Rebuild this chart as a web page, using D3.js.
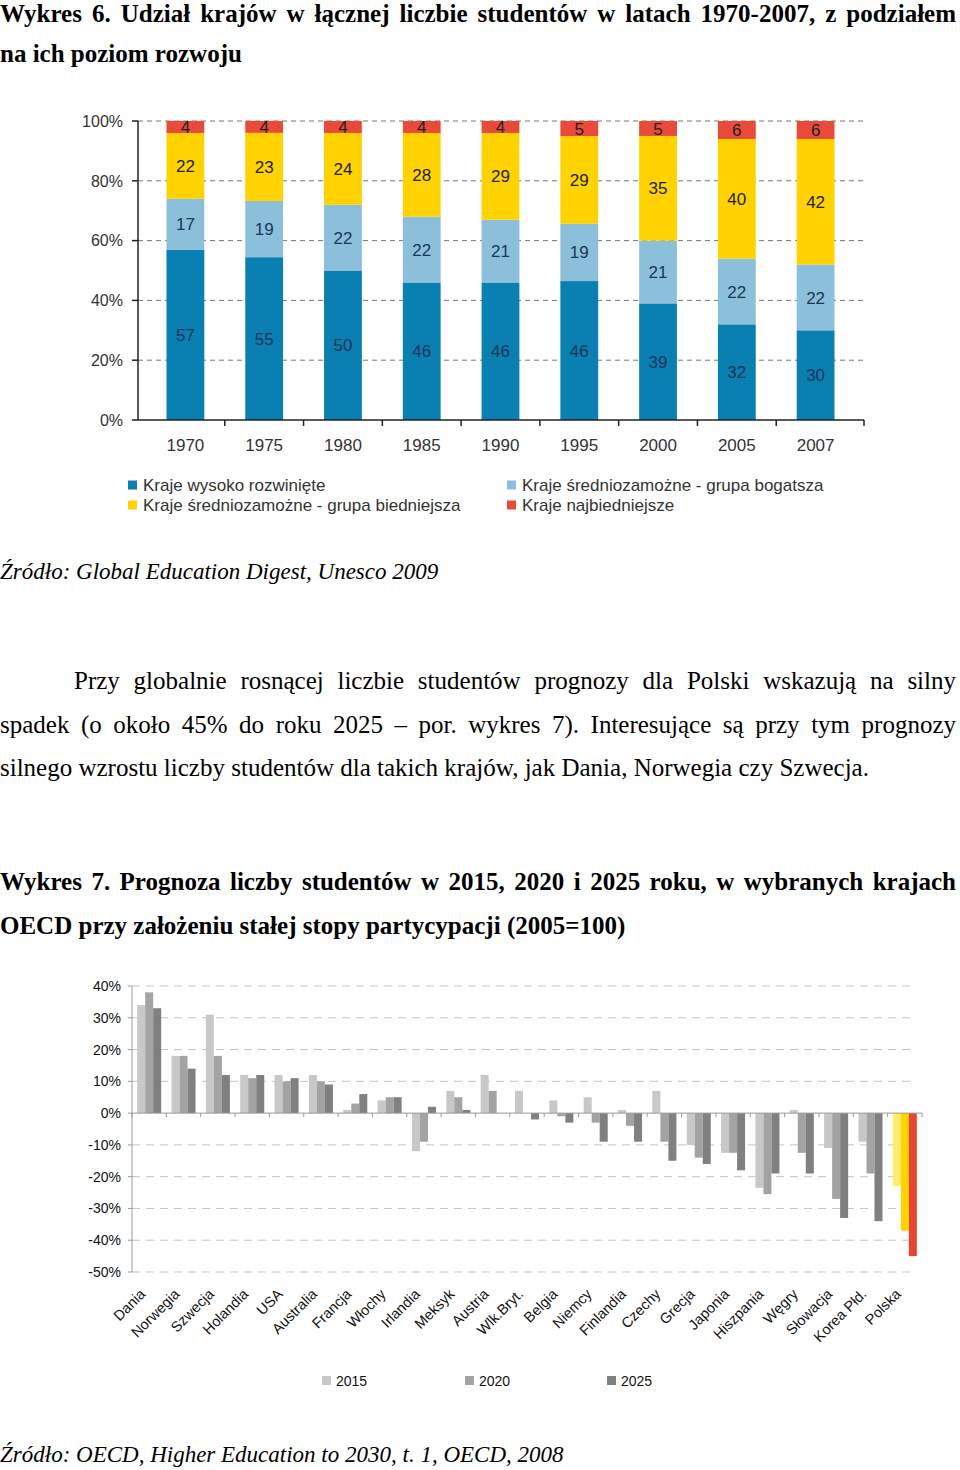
<!DOCTYPE html>
<html>
<head>
<meta charset="utf-8">
<script src="https://cdn.jsdelivr.net/npm/d3@7/dist/d3.min.js"></script>
<style>
  html, body { margin: 0; padding: 0; background: #fff; }
  svg { display: block; }
  .tb { font-family: "Liberation Serif", "Times New Roman", serif; font-weight: bold; font-size: 25px; fill: #000; }
  .tr { font-family: "Liberation Serif", "Times New Roman", serif; font-size: 25px; fill: #000; }
  .ti { font-family: "Liberation Serif", "Times New Roman", serif; font-style: italic; font-size: 23px; fill: #000; }
  .c1 { font-family: "Liberation Sans", Arial, sans-serif; font-size: 16px; fill: #333; }
  .c1b { font-family: "Liberation Sans", Arial, sans-serif; font-size: 17px; fill: #333; }
  .c2 { font-family: "Liberation Sans", Arial, sans-serif; font-size: 14px; fill: #111; }
  .c2x { font-family: "Liberation Sans", Arial, sans-serif; font-size: 14.5px; fill: #111; }
</style>
</head>
<body>
<script>
// ---------- DATA: chart 6 ----------
const years = ["1970", "1975", "1980", "1985", "1990", "1995", "2000", "2005", "2007"];
const highlyDeveloped = [57, 55, 50, 46, 46, 46, 39, 32, 30];
const middleRicher    = [17, 19, 22, 22, 21, 19, 21, 22, 22];
const middlePoorer    = [22, 23, 24, 28, 29, 29, 35, 40, 42];
const poorest         = [4, 4, 4, 4, 4, 5, 5, 6, 6];
const seriesNames6 = ["Kraje wysoko rozwinięte", "Kraje średniozamożne - grupa bogatsza",
                      "Kraje średniozamożne - grupa biedniejsza", "Kraje najbiedniejsze"];
const yTicks6 = [0, 20, 40, 60, 80, 100];

// ---------- DATA: chart 7 ----------
const countries = ["Dania", "Norwegia", "Szwecja", "Holandia", "USA", "Australia", "Francja", "Włochy",
  "Irlandia", "Meksyk", "Austria", "Wlk.Bryt.", "Belgia", "Niemcy", "Finlandia", "Czechy", "Grecja",
  "Japonia", "Hiszpania", "Węgry", "Słowacja", "Korea Płd.", "Polska"];
const v2015 = [34, 18, 31, 12, 12, 12, 1, 4, -12, 7, 12, 7, 4, 5, 1, 7, -10, -12.5, -23.5, 1, -11, -9, -23];
const v2020 = [38, 18, 18, 11, 10, 10, 3, 5, -9, 5, 7, 0, -1, -3, -4, -9, -14, -12.5, -25.5, -12.5, -27, -19, -37];
const v2025 = [33, 14, 12, 12, 11, 9, 6, 5, 2, 1, 0, -2, -3, -9, -9, -15, -16, -18, -19, -19, -33, -34, -45];
const seriesNames7 = ["2015", "2020", "2025"];
const yTicks7 = [40, 30, 20, 10, 0, -10, -20, -30, -40, -50];

// ---------- TEXT ----------
const title6 = ["Wykres 6. Udział krajów w łącznej liczbie studentów w latach 1970-2007, z podziałem",
                "na ich poziom rozwoju"];
const source6 = "Źródło: Global Education Digest, Unesco 2009";
const paragraph = ["Przy globalnie rosnącej liczbie studentów prognozy dla Polski wskazują na silny",
  "spadek (o około 45% do roku 2025 – por. wykres 7). Interesujące są przy tym prognozy",
  "silnego wzrostu liczby studentów dla takich krajów, jak Dania, Norwegia czy Szwecja."];
const title7 = ["Wykres 7. Prognoza liczby studentów w 2015, 2020 i 2025 roku, w wybranych krajach",
                "OECD przy założeniu stałej stopy partycypacji (2005=100)"];
const source7 = "Źródło: OECD, Higher Education to 2030, t. 1, OECD, 2008";

const W = 960, H = 1470;
const svg = d3.select("body").append("svg").attr("width", W).attr("height", H);

function textLine(txt, x0, x1, y, cls, justify) {
  const g = svg.append("g");
  if (!justify) {
    g.append("text").attr("class", cls).attr("x", x0).attr("y", y).text(txt);
    return;
  }
  const words = txt.split(" ");
  const nodes = words.map(w => g.append("text").attr("class", cls).attr("y", y).text(w));
  const widths = nodes.map(n => n.node().getComputedTextLength());
  const gap = (x1 - x0 - d3.sum(widths)) / (words.length - 1);
  let x = x0;
  nodes.forEach((n, i) => { n.attr("x", x); x += widths[i] + gap; });
}

textLine(title6[0], 0, 956, 22, "tb", true);
textLine(title6[1], 0, 956, 62, "tb", false);
textLine(source6, 0, 956, 579, "ti", false);
textLine(paragraph[0], 74, 956, 689, "tr", true);
textLine(paragraph[1], 0, 956, 733, "tr", true);
textLine(paragraph[2], 0, 956, 776, "tr", false);
textLine(title7[0], 0, 956, 890, "tb", true);
textLine(title7[1], 0, 956, 934, "tb", false);
textLine(source7, 0, 956, 1462, "ti", false);

// ================= CHART 6 =================
(function () {
  const colors = ["#0a7fb2", "#8cc0da", "#ffd200", "#e94a3a"];
  const labelColors = ["#1d3557", "#1d3557", "#222", "#222"];
  const rows = years.map((y, i) => {
    const vals = [highlyDeveloped[i], middleRicher[i], middlePoorer[i], poorest[i]];
    const tot = d3.sum(vals);
    return { year: y, vals, tot };
  });
  const y = d3.scaleLinear().domain([0, 100]).range([420, 121]);
  const x = d3.scaleBand().domain(years).range([146, 855]).paddingInner(0.52).paddingOuter(0.26);
  const axX0 = 138, axX1 = 864;
  const g = svg.append("g");

  // gridlines
  g.selectAll(".grid").data(yTicks6.filter(d => d > 0)).join("line")
    .attr("x1", axX0).attr("x2", axX1).attr("y1", d => y(d)).attr("y2", d => y(d))
    .attr("stroke", "#777").attr("stroke-width", 1).attr("stroke-dasharray", "5,4");

  // stacked bars
  rows.forEach(r => {
    let acc = 0;
    r.vals.forEach((v, k) => {
      const p0 = acc / r.tot * 100, p1 = (acc + v) / r.tot * 100;
      acc += v;
      g.append("rect").attr("x", x(r.year)).attr("width", x.bandwidth())
        .attr("y", y(p1)).attr("height", y(p0) - y(p1)).attr("fill", colors[k]);
      g.append("text").attr("class", "c1b").style("fill", labelColors[k])
        .attr("x", x(r.year) + x.bandwidth() / 2).attr("y", (y(p0) + y(p1)) / 2)
        .attr("text-anchor", "middle").attr("dy", "0.36em").text(v);
    });
  });

  // y axis
  g.append("line").attr("x1", axX0).attr("x2", axX0).attr("y1", y(100)).attr("y2", y(0))
    .attr("stroke", "#222").attr("stroke-width", 1.5);
  g.selectAll(".yt").data(yTicks6).join("line")
    .attr("x1", axX0 - 6).attr("x2", axX0).attr("y1", d => y(d)).attr("y2", d => y(d))
    .attr("stroke", "#222").attr("stroke-width", 1.5);
  g.selectAll(".yl").data(yTicks6).join("text").attr("class", "c1")
    .attr("x", 123).attr("y", d => y(d)).attr("dy", "0.36em").attr("text-anchor", "end")
    .text(d => d + "%");

  // x axis
  g.append("line").attr("x1", axX0).attr("x2", axX1).attr("y1", y(0)).attr("y2", y(0))
    .attr("stroke", "#222").attr("stroke-width", 1.5);
  const tickXs = years.slice(1).map(d => x(d) - x.step() * x.paddingInner() / 2).concat([axX1]);
  g.selectAll(".xt").data(tickXs).join("line")
    .attr("x1", d => d).attr("x2", d => d).attr("y1", y(0)).attr("y2", y(0) + 6)
    .attr("stroke", "#222").attr("stroke-width", 1.5);
  g.selectAll(".xl").data(years).join("text").attr("class", "c1b")
    .attr("x", d => x(d) + x.bandwidth() / 2).attr("y", 445).attr("dy", "0.36em")
    .attr("text-anchor", "middle").text(d => d);

  // legend
  const legPos = [[128, 485], [507, 485], [128, 505], [507, 505]];
  seriesNames6.forEach((name, k) => {
    const [lx, ly] = legPos[k];
    g.append("rect").attr("x", lx).attr("y", ly - 4.5).attr("width", 9).attr("height", 9).attr("fill", colors[k]);
    g.append("text").attr("class", "c1b").attr("x", lx + 15).attr("y", ly).attr("dy", "0.36em").text(name);
  });
})();

// ================= CHART 7 =================
(function () {
  const grays = ["#c8c8c8", "#a3a3a3", "#808080"];
  const polskaColors = ["#ffee6e", "#ffd200", "#e8472f"];
  const data = countries.map((c, i) => ({ c, vals: [v2015[i], v2020[i], v2025[i]] }));
  const y = d3.scaleLinear().domain([-50, 40]).range([1272, 986]);
  const x = d3.scaleBand().domain(countries).range([132, 922]).paddingInner(0.3).paddingOuter(0.15);
  const xs = d3.scaleBand().domain(seriesNames7).range([0, x.bandwidth()]);
  const g = svg.append("g");

  g.selectAll(".grid").data(yTicks7.filter(d => d !== 0)).join("line")
    .attr("x1", 132).attr("x2", 916).attr("y1", d => y(d)).attr("y2", d => y(d))
    .attr("stroke", "#c4c4c4").attr("stroke-width", 1).attr("stroke-dasharray", "8,6");

  data.forEach(d => {
    d.vals.forEach((v, k) => {
      const col = d.c === "Polska" ? polskaColors[k] : grays[k];
      g.append("rect").attr("x", x(d.c) + xs(seriesNames7[k])).attr("width", xs.bandwidth())
        .attr("y", y(Math.max(0, v))).attr("height", Math.abs(y(v) - y(0)))
        .attr("fill", col);
    });
  });

  // axes
  g.append("line").attr("x1", 132).attr("x2", 132).attr("y1", y(40)).attr("y2", y(-50))
    .attr("stroke", "#999").attr("stroke-width", 1);
  g.selectAll(".yt").data(yTicks7).join("line")
    .attr("x1", 128).attr("x2", 132).attr("y1", d => y(d)).attr("y2", d => y(d))
    .attr("stroke", "#999").attr("stroke-width", 1);
  g.append("line").attr("x1", 132).attr("x2", 922).attr("y1", y(0)).attr("y2", y(0))
    .attr("stroke", "#999").attr("stroke-width", 1);
  const ticks = d3.range(countries.length + 1).map(i => 132 + i * x.step());
  g.selectAll(".xt").data(ticks).join("line")
    .attr("x1", d => d).attr("x2", d => d).attr("y1", y(0)).attr("y2", y(0) + 4)
    .attr("stroke", "#999").attr("stroke-width", 1);
  g.selectAll(".yl").data(yTicks7).join("text").attr("class", "c2")
    .attr("x", 121).attr("y", d => y(d)).attr("dy", "0.36em").attr("text-anchor", "end")
    .text(d => d + "%");

  g.selectAll(".xl").data(countries).join("text").attr("class", "c2x")
    .attr("text-anchor", "end")
    .attr("transform", d => `translate(${x(d) + x.bandwidth() / 2 - 3},1295) rotate(-45)`)
    .text(d => d);

  // legend
  const legX = [322, 465, 607];
  seriesNames7.forEach((s, k) => {
    g.append("rect").attr("x", legX[k]).attr("y", 1376).attr("width", 9).attr("height", 9).attr("fill", grays[k]);
    g.append("text").attr("class", "c2").attr("x", legX[k] + 14).attr("y", 1381).attr("dy", "0.36em").text(s);
  });
})();
</script>
</body>
</html>
